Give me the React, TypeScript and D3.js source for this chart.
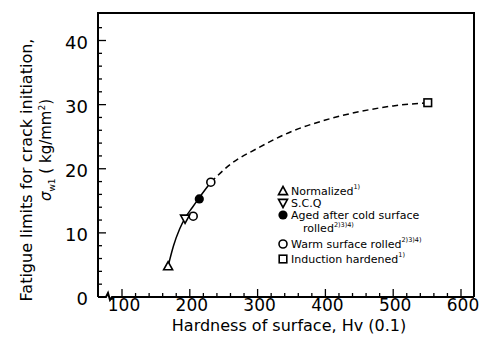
import React from 'react';
import * as d3 from 'd3';

// values: hardness Hv(0.1) vs fatigue limit (kg/mm2)
const xTicks = [100, 200, 300, 400, 500, 600];
const yTicks = [0, 10, 20, 30, 40];
const normalized = [[168, 4.8]];
const scq = [[193, 12.2]];
const aged = [[214, 15.3]];
const warm = [[205, 12.6], [231, 17.9]];
const induction = [[551, 30.3]];
const curveSolid = [[168, 4.8], [176, 8], [185, 10.6], [193, 12.3], [204, 14.0], [214, 15.5], [231, 17.9]];
const curveDashed = [[231, 17.9], [260, 20.7], [300, 23.2], [350, 25.8], [400, 27.6], [450, 28.9], [500, 29.8], [551, 30.3]];
const legendItems = [
    { shape: 'up', lines: ['Normalized'], sup: '1)' },
    { shape: 'down', lines: ['S.C.Q'], sup: '' },
    { shape: 'filled', lines: ['Aged after cold surface', 'rolled'], sup: '2)3)4)' },
    { shape: 'circle', lines: ['Warm surface rolled'], sup: '2)3)4)' },
    { shape: 'square', lines: ['Induction hardened'], sup: '1)' },
];

const W = 489, H = 349;
const left = 98, right = 474, top = 13, bottom = 297;
const font = 'DejaVu Sans, sans-serif';

function Marker({ shape, cx, cy }: { shape: string, cx: number, cy: number }) {
    const s = 4.5;
    if (shape === 'up')
        return <path d={`M${cx},${cy - s}L${cx + s},${cy + s * 0.8}L${cx - s},${cy + s * 0.8}Z`} fill="white" stroke="black" strokeWidth={1.6} />;
    if (shape === 'down')
        return <path d={`M${cx},${cy + s}L${cx + s},${cy - s * 0.8}L${cx - s},${cy - s * 0.8}Z`} fill="white" stroke="black" strokeWidth={1.6} />;
    if (shape === 'filled')
        return <circle cx={cx} cy={cy} r={4.6} fill="black" />;
    if (shape === 'circle')
        return <circle cx={cx} cy={cy} r={4} fill="white" stroke="black" strokeWidth={1.6} />;
    return <rect x={cx - 3.8} y={cy - 3.8} width={7.6} height={7.6} fill="white" stroke="black" strokeWidth={1.6} />;
}

export default function App() {
    const x = d3.scaleLinear().domain([100, 600]).range([122, 461]);
    const y = d3.scaleLinear().domain([0, 40]).range([297, 40.5]);

    const line = d3.line<number[]>()
        .x(d => x(d[0]))
        .y(d => y(d[1]))
        .curve(d3.curveMonotoneX);

    const xMinor = d3.range(100, 601, 20);
    const yMinor = d3.range(0, 43, 2);

    const rows = [191, 203, 215, 244, 259];

    return (
        <svg width={W} height={H} style={{ position: 'absolute', left: 0, top: 0, background: 'white' }} fontFamily={font}>
            {/* frame */}
            <path d={`M${left},${bottom}V${top}H${right}V${bottom}`} fill="none" stroke="black" strokeWidth={2} />
            <path d={`M${left},${bottom}H${left + 8}L${left + 10},${bottom - 4}L${left + 12},${bottom + 3}L${left + 14},${bottom}H${right}`} fill="none" stroke="black" strokeWidth={2} />

            {/* x ticks */}
            {xMinor.map(v => (
                <line key={'xt' + v} x1={x(v)} x2={x(v)} y1={bottom} y2={bottom - (v % 100 === 0 ? 8 : 4)} stroke="black" strokeWidth={1.3} />
            ))}
            {xTicks.map(v => (
                <text key={'xl' + v} x={x(v) + 2} y={311} fontSize={17} textAnchor="middle">{v}</text>
            ))}

            {/* y ticks */}
            {yMinor.map(v => (
                <line key={'yt' + v} x1={left} x2={left + (v % 10 === 0 ? 8 : 4)} y1={y(v)} y2={y(v)} stroke="black" strokeWidth={1.3} />
            ))}
            {yTicks.map(v => (
                <text key={'yl' + v} x={88} y={y(v) + 2} dy="0.36em" fontSize={18} textAnchor="end">{v}</text>
            ))}

            {/* axis titles */}
            <text x={289} y={331} fontSize={16} textAnchor="middle">Hardness of surface, Hv (0.1)</text>
            <text transform="translate(32,170) rotate(-90)" fontSize={16} textAnchor="middle">Fatigue limits for crack initiation,</text>
            <text transform="translate(51,150) rotate(-90)" fontSize={15} textAnchor="middle">
                <tspan fontStyle="italic">σ</tspan>
                <tspan fontSize={9} dy={4}>w1</tspan>
                <tspan dy={-4}> ( kg/mm</tspan>
                <tspan fontSize={9} dy={-6}>2</tspan>
                <tspan dy={6}>)</tspan>
            </text>

            {/* fitted curve */}
            <path d={line(curveSolid) || ''} fill="none" stroke="black" strokeWidth={1.5} />
            <path d={line(curveDashed) || ''} fill="none" stroke="black" strokeWidth={1.5} strokeDasharray="6,4" />

            {/* data */}
            {normalized.map((d, i) => <Marker key={'n' + i} shape="up" cx={x(d[0])} cy={y(d[1])} />)}
            {warm.map((d, i) => <Marker key={'w' + i} shape="circle" cx={x(d[0])} cy={y(d[1])} />)}
            {scq.map((d, i) => <Marker key={'s' + i} shape="down" cx={x(d[0])} cy={y(d[1])} />)}
            {aged.map((d, i) => <Marker key={'a' + i} shape="filled" cx={x(d[0])} cy={y(d[1])} />)}
            {induction.map((d, i) => <Marker key={'i' + i} shape="square" cx={x(d[0])} cy={y(d[1])} />)}

            {/* legend */}
            {legendItems.map((it, i) => (
                <g key={'lg' + i}>
                    <Marker shape={it.shape} cx={283} cy={rows[i]} />
                    <text x={291} y={rows[i] + 4} fontSize={11}>
                        {it.lines[0]}
                        {it.lines.length === 1 && it.sup ? <tspan fontSize={6.5} dy={-6}>{it.sup}</tspan> : null}
                    </text>
                    {it.lines.length > 1 ? (
                        <text x={303} y={rows[i] + 17} fontSize={11}>
                            {it.lines[1]}
                            <tspan fontSize={6.5} dy={-5}>{it.sup}</tspan>
                        </text>
                    ) : null}
                </g>
            ))}
        </svg>
    );
}
